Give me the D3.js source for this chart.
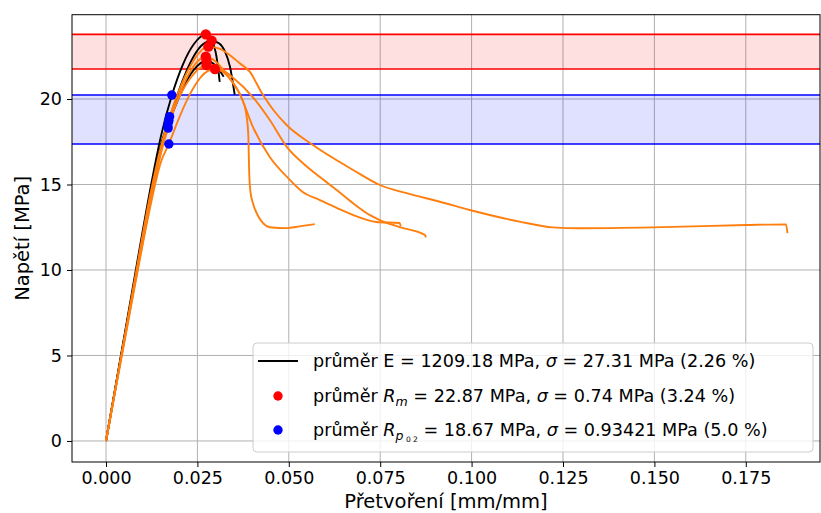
<!DOCTYPE html>
<html><head><meta charset="utf-8">
<script src="https://cdn.jsdelivr.net/npm/d3@7"></script>
<style>
html,body{margin:0;padding:0;background:#fff;}
svg{display:block;font-family:"DejaVu Sans",sans-serif;}
</style></head>
<body><svg id="c" width="821" height="513"></svg>
<script>
// ---- data ----
const xTicks = [0, 0.025, 0.05, 0.075, 0.1, 0.125, 0.15, 0.175];
const xTickLabels = ["0.000","0.025","0.050","0.075","0.100","0.125","0.150","0.175"];
const yTicks = [0, 5, 10, 15, 20];

// black specimens [strain, stress]
const curveK1 = [[0,0],[0.004,4.9],[0.008,9.8],[0.012,14.6],[0.015,17.8],[0.018,20.2],[0.021,22.0],[0.024,23.2],[0.0273,23.78],[0.0290,23.4],[0.0302,22.5],[0.0311,21.0]];
const curveK2 = [[0,0],[0.004,4.8],[0.008,9.6],[0.012,14.3],[0.015,17.3],[0.0172,18.75],[0.019,19.9],[0.021,21.1],[0.024,22.5],[0.0265,23.2],[0.0289,23.41],[0.031,23.25],[0.0325,22.8],[0.0339,21.9],[0.0352,20.25]];
const curveK3 = [[0,0],[0.004,4.8],[0.008,9.5],[0.012,14.1],[0.015,17.0],[0.0169,18.42],[0.019,19.6],[0.021,20.6],[0.024,21.7],[0.0275,22.22],[0.0300,21.95],[0.0322,21.3]];
// orange specimens
const curveA = [[0,0],[0.004,4.6],[0.008,9.2],[0.012,13.6],[0.015,16.3],[0.0172,17.37],[0.020,18.9],[0.023,20.3],[0.026,21.3],[0.0298,21.75],[0.033,21.4],[0.0355,20.7],[0.0372,20.0],[0.0383,19.2],[0.0389,18.0],[0.0392,15.5],[0.0395,14.6],[0.0402,13.9],[0.0415,13.2],[0.0429,12.75],[0.0448,12.5],[0.0494,12.45],[0.0530,12.55],[0.0571,12.68]];
const curveB = [[0,0],[0.004,4.7],[0.008,9.4],[0.012,13.9],[0.015,16.8],[0.0170,18.30],[0.020,20.2],[0.023,21.6],[0.0273,22.47],[0.030,22.2],[0.0335,21.3],[0.0366,20.3],[0.0402,18.36],[0.0448,16.61],[0.0495,15.44],[0.0538,14.56],[0.0585,14.09],[0.0631,13.63],[0.0675,13.22],[0.0740,12.81],[0.0803,12.75],[0.0806,12.55]];
const curveC = [[0,0],[0.004,4.7],[0.008,9.3],[0.012,13.8],[0.015,16.9],[0.0171,18.65],[0.020,20.1],[0.023,21.2],[0.0275,21.99],[0.031,21.8],[0.035,21.2],[0.0402,20.1],[0.0448,18.77],[0.0495,17.19],[0.0538,16.26],[0.0585,15.44],[0.0631,14.68],[0.0675,13.92],[0.0721,13.22],[0.0749,12.92],[0.0803,12.51],[0.0872,12.05],[0.0875,11.9]];
const curveD = [[0,0],[0.004,4.8],[0.008,9.6],[0.012,14.3],[0.015,17.2],[0.0174,18.97],[0.020,20.5],[0.023,21.9],[0.028,23.06],[0.031,22.95],[0.034,22.55],[0.0365,22.1],[0.0393,21.6],[0.0425,20.4],[0.046,19.3],[0.0494,18.48],[0.0566,17.31],[0.0676,15.85],[0.0749,14.97],[0.0822,14.49],[0.0913,13.99],[0.0995,13.51],[0.1131,12.83],[0.1222,12.49],[0.1295,12.44],[0.1495,12.49],[0.1751,12.63],[0.1860,12.67],[0.1864,12.15]];

const blackCurves = [curveK1, curveK2, curveK3];
const orangeCurves = [curveA, curveB, curveC, curveD];

// Rm points (red) and Rp0.2 points (blue)
const rmStrain = [0.0273, 0.0289, 0.0280, 0.0273, 0.0275, 0.0275, 0.0298];
const rmStress = [23.78, 23.41, 23.06, 22.47, 22.22, 21.99, 21.75];
const rpStrain = [0.0180, 0.0174, 0.0172, 0.0169, 0.0170, 0.0171, 0.0172];
const rpStress = [20.23, 18.97, 18.75, 18.42, 18.30, 18.65, 17.37];

const rmBand = [21.75, 23.78];
const rpBand = [17.37, 20.23];

// ---- layout ----
const svg = d3.select("#c");
const L = 72, R = 820, T = 14.7, B = 462;
const x = d3.scaleLinear().domain([-0.0093, 0.1953]).range([L, R]);
const y = d3.scaleLinear().domain([-1.23, 24.93]).range([B, T]);

const defs = svg.append("defs");
defs.append("clipPath").attr("id","clip").append("rect")
  .attr("x",L).attr("y",T).attr("width",R-L).attr("height",B-T);

// grid
const grid = svg.append("g");
grid.selectAll(".gx").data(xTicks).join("line")
  .attr("x1",d=>x(d)).attr("x2",d=>x(d)).attr("y1",T).attr("y2",B)
  .attr("stroke","#b0b0b0").attr("stroke-width",1);
grid.selectAll(".gy").data(yTicks).join("line")
  .attr("y1",d=>y(d)).attr("y2",d=>y(d)).attr("x1",L).attr("x2",R)
  .attr("stroke","#b0b0b0").attr("stroke-width",1);

const plot = svg.append("g").attr("clip-path","url(#clip)");
// bands
plot.append("rect").attr("x",L).attr("width",R-L)
  .attr("y",y(rmBand[1])).attr("height",y(rmBand[0])-y(rmBand[1]))
  .attr("fill","rgb(255,0,0)").attr("fill-opacity",0.12);
plot.append("rect").attr("x",L).attr("width",R-L)
  .attr("y",y(rpBand[1])).attr("height",y(rpBand[0])-y(rpBand[1]))
  .attr("fill","rgb(0,0,255)").attr("fill-opacity",0.12);
rmBand.forEach(v=>plot.append("line").attr("x1",L).attr("x2",R).attr("y1",y(v)).attr("y2",y(v)).attr("stroke","#ff0000").attr("stroke-width",1.6));
rpBand.forEach(v=>plot.append("line").attr("x1",L).attr("x2",R).attr("y1",y(v)).attr("y2",y(v)).attr("stroke","#0000ff").attr("stroke-width",1.6));

const line = d3.line().x(d=>x(d[0])).y(d=>y(d[1])).curve(d3.curveMonotoneX);
plot.selectAll(".bk").data(blackCurves).join("path")
  .attr("d",line).attr("fill","none").attr("stroke","#000").attr("stroke-width",1.9);
plot.selectAll(".or").data(orangeCurves).join("path")
  .attr("d",line).attr("fill","none").attr("stroke","#ff7f0e").attr("stroke-width",1.9);

plot.selectAll(".rm").data(rmStrain).join("circle")
  .attr("cx",d=>x(d)).attr("cy",(d,i)=>y(rmStress[i])).attr("r",5.2).attr("fill","#ff0000");
plot.selectAll(".rp").data(rpStrain).join("circle")
  .attr("cx",d=>x(d)).attr("cy",(d,i)=>y(rpStress[i])).attr("r",4.7).attr("fill","#0000ff");

// axes
const fs = 17.5;
const xAxis = svg.append("g").attr("transform",`translate(0,${B})`)
  .call(d3.axisBottom(x).tickValues(xTicks).tickFormat((d,i)=>xTickLabels[i]).tickSize(5).tickPadding(5));
const yAxis = svg.append("g").attr("transform",`translate(${L},0)`)
  .call(d3.axisLeft(y).tickValues(yTicks).tickSize(5).tickPadding(5));
[xAxis,yAxis].forEach(a=>{
  a.select(".domain").remove();
  a.selectAll("text").attr("font-size",fs).attr("font-family","DejaVu Sans").attr("fill","#000");
  a.selectAll("line").attr("stroke","#000").attr("stroke-width",1);
});
// frame
svg.append("rect").attr("x",L).attr("y",T).attr("width",R-L).attr("height",B-T)
  .attr("fill","none").attr("stroke","#000").attr("stroke-width",1);

svg.append("text").attr("x",(L+R)/2).attr("y",508).attr("text-anchor","middle")
  .attr("font-size",19.5).text("Přetvoření [mm/mm]");
svg.append("text").attr("transform",`translate(29,${(T+B)/2}) rotate(-90)`).attr("text-anchor","middle")
  .attr("font-size",19.5).text("Napětí [MPa]");

// legend
const lg = svg.append("g");
lg.append("rect").attr("x",253).attr("y",343).attr("width",560).attr("height",109).attr("rx",4)
  .attr("fill","#fff").attr("fill-opacity",0.8).attr("stroke","#cccccc").attr("stroke-width",1);
const rows = [361, 396, 430];
lg.append("line").attr("x1",258).attr("x2",298).attr("y1",rows[0]).attr("y2",rows[0]).attr("stroke","#000").attr("stroke-width",1.9);
lg.append("circle").attr("cx",278).attr("cy",rows[1]).attr("r",4.7).attr("fill","#ff0000");
lg.append("circle").attr("cx",278).attr("cy",rows[2]).attr("r",4.7).attr("fill","#0000ff");
const tx = 313, lfs = 17.6;
const t1 = lg.append("text").attr("x",tx).attr("y",rows[0]+6).attr("font-size",lfs);
t1.append("tspan").text("průměr E = 1209.18 MPa, ");
t1.append("tspan").attr("font-style","italic").text("σ");
t1.append("tspan").text(" = 27.31 MPa (2.26 %)");
const t2 = lg.append("text").attr("x",tx).attr("y",rows[1]+6).attr("font-size",lfs);
t2.append("tspan").text("průměr ");
t2.append("tspan").attr("font-style","italic").text("R");
t2.append("tspan").attr("font-style","italic").attr("font-size",12.5).attr("dy",4).text("m");
t2.append("tspan").attr("dy",-4).text(" = 22.87 MPa, ");
t2.append("tspan").attr("font-style","italic").text("σ");
t2.append("tspan").text(" = 0.74 MPa (3.24 %)");
const t3 = lg.append("text").attr("x",tx).attr("y",rows[2]+6).attr("font-size",lfs);
t3.append("tspan").text("průměr ");
t3.append("tspan").attr("font-style","italic").text("R");
t3.append("tspan").attr("font-style","italic").attr("font-size",12.5).attr("dy",4).text("p");
t3.append("tspan").attr("font-size",7.5).attr("dy",2).text(" 0 2");
t3.append("tspan").attr("dy",-6).text(" = 18.67 MPa, ");
t3.append("tspan").attr("font-style","italic").text("σ");
t3.append("tspan").text(" = 0.93421 MPa (5.0 %)");
</script></body></html>
